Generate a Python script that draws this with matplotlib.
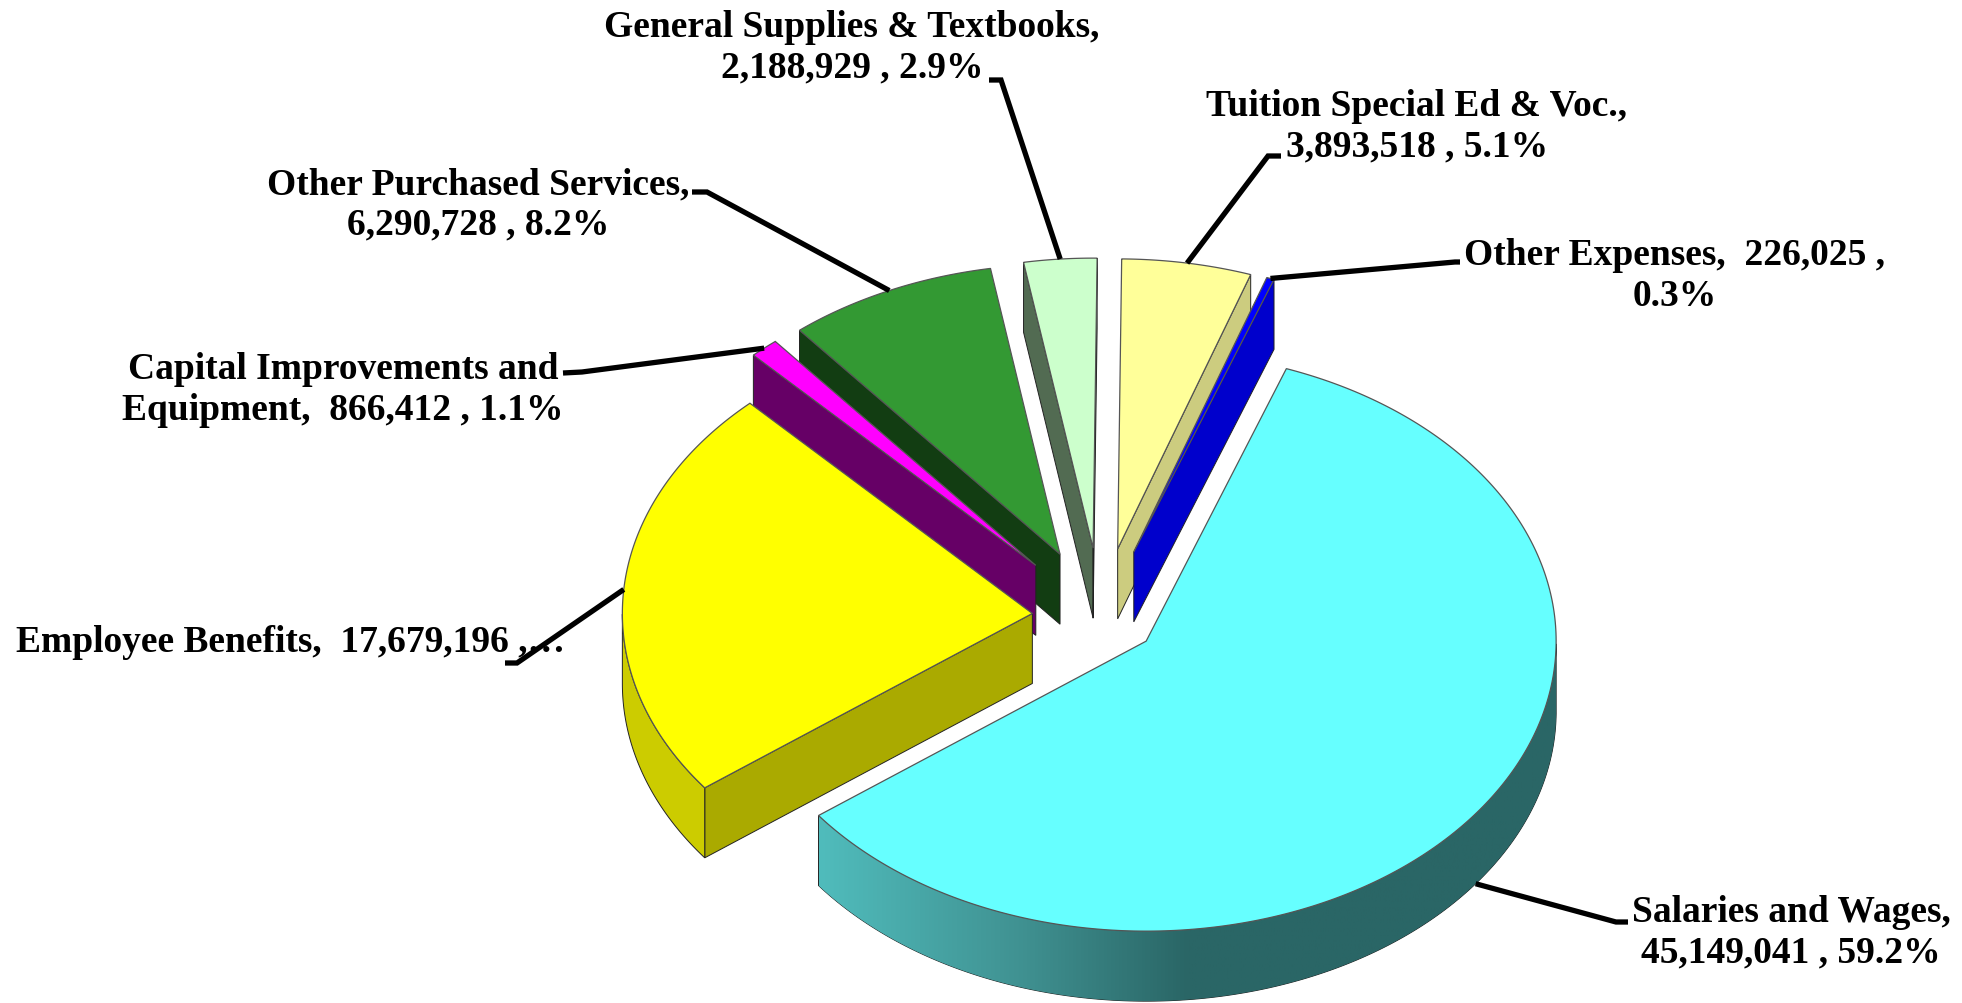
import matplotlib
matplotlib.use('Agg')
import matplotlib.pyplot as plt
import numpy as np

from matplotlib.colors import LinearSegmentedColormap
from matplotlib.patches import Polygon

# pie order, clockwise from the start angle
categories = ['Salaries and Wages', 'Employee Benefits', 'Capital Improvements and Equipment',
              'Other Purchased Services', 'General Supplies & Textbooks',
              'Tuition Special Ed & Voc.', 'Other Expenses']
amounts = [45149041, 17679196, 866412, 6290728, 2188929, 3893518, 226025]
labels = ['Salaries and Wages,\n45,149,041 , 59.2%',
          'Employee Benefits,  17,679,196 ,\u2026',
          'Capital Improvements and\nEquipment,  866,412 , 1.1%',
          'Other Purchased Services,\n6,290,728 , 8.2%',
          'General Supplies & Textbooks,\n2,188,929 , 2.9%',
          'Tuition Special Ed & Voc.,\n3,893,518 , 5.1%',
          'Other Expenses,  226,025 ,\n0.3%']

explode = [0.137, 0.168, 0.24, 0.24, 0.24, 0.24, 0.24]
top_colors = ['#66FFFF', '#FFFF00', '#FF00FF', '#339933', '#CCFFCC', '#FFFF99', '#0000FF']
cut_colors = ['#2A6666', '#AAAA00', '#660066', '#123D12', '#526B52', '#CCCC7F', '#0000CC']
rim_colors = ['#2A6666', '#CCCC00', '#660066', '#123D12', '#526B52', '#CCCC7F', '#0000CC']
draw_order = [3, 2, 1, 4, 5, 6, 0]

# label centres and leader elbows, in pixels of the 1962x1004 picture
label_pos = [(1791, 933), (290, 643), (343, 390), (478, 205), (852, 48), (1417, 127), (1675, 276)]
elbows = [[(1616, 923), (1628, 923)], [(517, 664), (505, 664)], [(582, 373), (563, 374)],
          [(707, 193), (692, 193)], [(1001, 81), (989, 81)], [(1268, 157), (1281, 157)],
          [(1455, 263), (1460, 263)]]

CENTER = (1101, 618.5)
RX, RY = 410, 290
DEPTH = 70
START = 70

fig = plt.figure(figsize=(19.62, 10.04), dpi=100)
ax = fig.add_axes([0, 0, 1, 1])


def rim(apex, angle):
    a = np.radians(angle)
    return apex[0] + RX*np.cos(a), apex[1] - RY*np.sin(a)


def face(pts, color, lw=0.7, ec='#222222', z=1):
    p = Polygon(pts, closed=True, facecolor=color, edgecolor=ec, linewidth=lw, zorder=z)
    ax.add_patch(p)
    return p


total = sum(amounts)
sweeps = np.array(amounts) / total * 360
highs = START - np.concatenate([[0], np.cumsum(sweeps)[:-1]])
lows = highs - sweeps
mids = (highs + lows) / 2

apexes = []
for i in range(len(amounts)):
    m = np.radians(mids[i])
    apexes.append((CENTER[0] + explode[i]*RX*np.cos(m), CENTER[1] - explode[i]*RY*np.sin(m)))

rim_gradient = LinearSegmentedColormap.from_list(
    'rim', [(0, '#50BCBC'), (0.27, '#409292'), (0.5, '#2A6666'), (1, '#2A6666')])

for n, i in enumerate(draw_order):
    apex, hi, lo = apexes[i], highs[i], lows[i]
    z = n + 1

    # cut faces that turn towards the viewer
    for edge in (hi, lo):
        seen = np.cos(np.radians(edge)) < 0 if edge == hi else np.cos(np.radians(edge)) > 0
        if seen:
            x, y = rim(apex, edge)
            face([apex, (x, y), (x, y + DEPTH), (apex[0], apex[1] + DEPTH)], cut_colors[i], z=z)

    # outer wall, front half only
    arc = np.linspace(lo, hi, 300)
    front = arc[np.sin(np.radians(arc)) < 0]
    if len(front) > 1:
        xs, ys = rim(apex, front)
        pts = np.r_[np.c_[xs, ys], np.c_[xs, ys + DEPTH][::-1]]
        p = face(pts, rim_colors[i], z=z)
        if i == 0:
            im = ax.imshow(np.linspace(0, 1, 256)[None, :], cmap=rim_gradient, aspect='auto',
                           extent=(xs.min(), xs.max(), ys.max() + DEPTH, ys.min()), zorder=z)
            im.set_clip_path(p)

    # top surface
    xs, ys = rim(apex, arc)
    face(np.r_[[apex], np.c_[xs, ys]], top_colors[i], lw=0.9, ec='#555555', z=z + 0.5)

# leaders and labels
for i in range(len(amounts)):
    x, y = rim(apexes[i], mids[i])
    if np.sin(np.radians(mids[i])) < 0:
        y += DEPTH
    path = [(x, y)] + elbows[i]
    ax.plot([q[0] for q in path], [q[1] for q in path], color='black', lw=3.8,
            solid_joinstyle='miter', solid_capstyle='butt', zorder=20)
    ax.text(label_pos[i][0], label_pos[i][1], labels[i], ha='center', va='center', multialignment='center',
            family='Liberation Serif', weight='bold', fontsize=27, linespacing=1.22, color='black', zorder=21)

ax.set_xlim(0, 1962)
ax.set_ylim(1004, 0)
ax.axis('off')

plt.savefig('out.png', dpi=100)
